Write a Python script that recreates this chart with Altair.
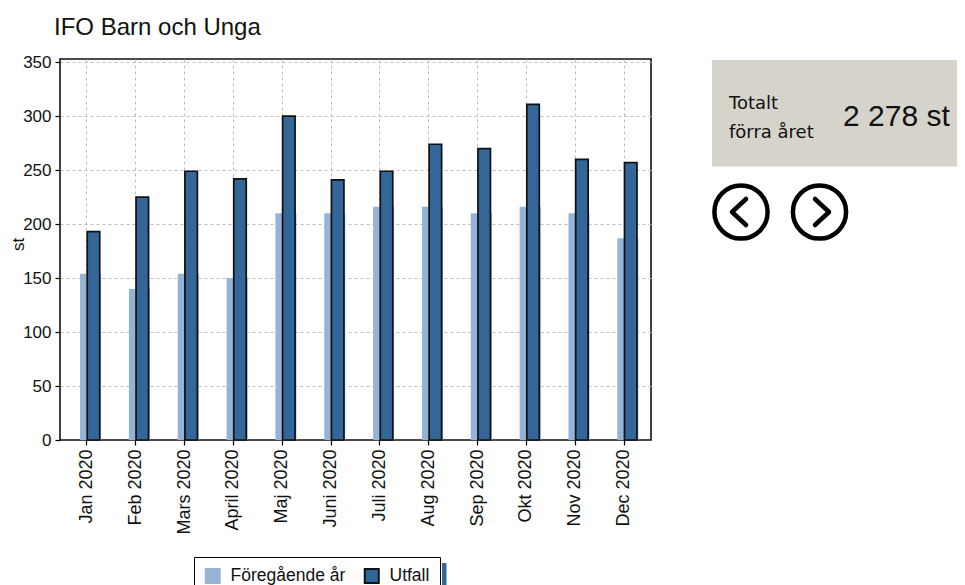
import altair as alt
import pandas as pd

# ---- data ----
months = ["Jan 2020", "Feb 2020", "Mars 2020", "April 2020", "Maj 2020", "Juni 2020",
          "Juli 2020", "Aug 2020", "Sep 2020", "Okt 2020", "Nov 2020", "Dec 2020"]
prev_year = [154, 140, 154, 150, 210, 210, 216, 216, 210, 216, 210, 187]
outcome = [193, 225, 249, 242, 300, 241, 249, 274, 270, 311, 260, 257]
series_names = ["Föregående år", "Utfall"]
series_colors = ["#95b3d7", "#336699"]
series_strokes = ["#95b3d7", "#111111"]
y_ticks = [0, 50, 100, 150, 200, 250, 300, 350]
title_text = "IFO Barn och Unga"
y_title = "st"
total_label = ["Totalt", "förra året"]
total_value = "2 278 st"

rows = []
for m, p, o in zip(months, prev_year, outcome):
    rows.append({"month": m, "series": series_names[0], "value": p})
    rows.append({"month": m, "series": series_names[1], "value": o})
df = pd.DataFrame(rows)

W, H = 591, 381
FONT = "Liberation Sans"

legend_cfg = dict(
    title=None, orient="none", legendX=134, legendY=498, direction="horizontal",
    strokeColor="#000000", fillColor="#ffffff", padding=10, symbolType="square",
    symbolSize=196, symbolStrokeWidth=2, labelFont=FONT, labelFontSize=17.5,
    labelColor="#111111", labelOffset=9, columnPadding=14,
)

x_enc = alt.X(
    "month:N", sort=months,
    scale=alt.Scale(paddingInner=0, paddingOuter=0.05),
    axis=alt.Axis(title=None, labelAngle=270, labelFont=FONT, labelFontSize=18,
                  labelColor="#111111", labelPadding=4, tickColor="#000000",
                  tickSize=5, tickWidth=1.2, domain=False, grid=True,
                  gridDash=[3, 3], gridColor="#bdbdbd", gridWidth=1),
)
y_enc = alt.Y(
    "value:Q", scale=alt.Scale(domain=[0, 353], nice=False, zero=True),
    axis=alt.Axis(values=y_ticks, title=y_title, titleFont=FONT, titleFontSize=17,
                  titleFontWeight="normal", titleColor="#111111", titleAngle=270,
                  titleX=-42, titleY=185, titleAlign="center", titleBaseline="middle",
                  labelFont=FONT, labelFontSize=17, labelColor="#111111",
                  labelPadding=4, tickColor="#000000", tickSize=5, tickWidth=1.2,
                  domain=False, grid=True, gridDash=[3, 3], gridColor="#bdbdbd",
                  gridWidth=1,
                  gridOpacity={"condition": {"test": "datum.value === 0", "value": 0},
                               "value": 1}),
)
color_enc = alt.Color("series:N", scale=alt.Scale(domain=series_names, range=series_colors),
                      legend=alt.Legend(**legend_cfg))
stroke_enc = alt.Stroke("series:N", scale=alt.Scale(domain=series_names, range=series_strokes),
                        legend=alt.Legend(**legend_cfg))

base = alt.Chart(df).encode(x=x_enc, y=y_enc, color=color_enc, stroke=stroke_enc)

prev_bars = base.transform_filter(alt.datum.series == series_names[0]).mark_bar(
    width=21, xOffset=3.7, strokeWidth=0)
out_bars = base.transform_filter(alt.datum.series == series_names[1]).mark_bar(
    width=12.5, xOffset=6.6, strokeWidth=1.7)

one = pd.DataFrame({"k": [0]})

title_mark = alt.Chart(one).mark_text(
    text=title_text, font=FONT, fontSize=24, color="#111111", align="left",
    baseline="alphabetic").encode(x=alt.value(-6), y=alt.value(-24))

box = alt.Chart(one).mark_rect(color="#d6d3cb").encode(
    x=alt.value(652), x2=alt.value(910), y=alt.value(1), y2=alt.value(107.5))

box_label = alt.Chart(one).mark_text(
    text=total_label, font="DejaVu Sans", fontSize=18, lineHeight=29, color="#111111",
    align="left", baseline="alphabetic").encode(x=alt.value(669), y=alt.value(50))

box_value = alt.Chart(one).mark_text(
    text=total_value, font=FONT, fontSize=30, color="#111111", align="left",
    baseline="alphabetic").encode(x=alt.value(783), y=alt.value(67))

circle_l = alt.Chart(one).mark_point(shape="circle", size=2827, filled=False,
                                     color="#000000", strokeWidth=4.5, opacity=1).encode(
    x=alt.value(681), y=alt.value(153))
circle_r = alt.Chart(one).mark_point(shape="circle", size=2827, filled=False,
                                     color="#000000", strokeWidth=4.5, opacity=1).encode(
    x=alt.value(759.5), y=alt.value(153))
chev_l = alt.Chart(one).mark_point(shape="M 0.54 -1 L -0.54 0 L 0.54 1", size=676,
                                   filled=False, color="#000000", strokeWidth=4.5,
                                   strokeCap="round", strokeJoin="round", opacity=1).encode(
    x=alt.value(679), y=alt.value(153))
chev_r = alt.Chart(one).mark_point(shape="M -0.54 -1 L 0.54 0 L -0.54 1", size=676,
                                   filled=False, color="#000000", strokeWidth=4.5,
                                   strokeCap="round", strokeJoin="round", opacity=1).encode(
    x=alt.value(762), y=alt.value(153))

legend_tab = alt.Chart(one).mark_rect(color="#336699").encode(
    x=alt.value(382), x2=alt.value(386.5), y=alt.value(504), y2=alt.value(535))

chart = alt.layer(
    prev_bars, out_bars, title_mark, box, box_label, box_value,
    circle_l, circle_r, chev_l, chev_r, legend_tab,
).properties(
    width=W, height=H,
    autosize=alt.AutoSizeParams(type="none"),
    padding={"left": 52, "top": 51, "right": 306, "bottom": 145},
    background="#ffffff",
).configure_view(
    stroke="#111111", strokeWidth=1.6,
)

chart.save("out.html", embed_options={"renderer": "svg", "actions": False})
